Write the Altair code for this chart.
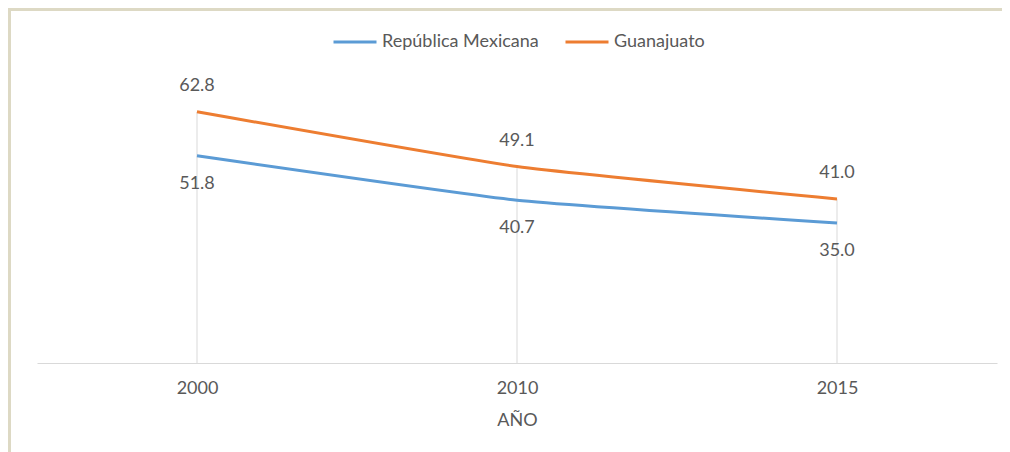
import altair as alt
import pandas as pd

years = ["2000", "2010", "2015"]
series_names = ["República Mexicana", "Guanajuato"]
mexico = [51.8, 40.7, 35.0]
guanajuato = [62.8, 49.1, 41.0]

rows = []
for i, y in enumerate(years):
    rows.append({"year": y, "serie": series_names[0], "valor": mexico[i]})
    rows.append({"year": y, "serie": series_names[1], "valor": guanajuato[i]})
df = pd.DataFrame(rows)
drop = pd.DataFrame({"year": years, "top": guanajuato})

FONT = "Lato"
GRAY = "#595959"

x = alt.X("year:O", scale=alt.Scale(type="point", padding=0.5),
          sort=years,
          axis=alt.Axis(title="AÑO", labelAngle=0, ticks=False, grid=False,
                        domainColor="#d9d9d9", domainWidth=1,
                        labelFontSize=18, labelColor=GRAY, labelFont=FONT,
                        labelPadding=16, titleFontSize=18, titleColor=GRAY,
                        titleFont=FONT, titleFontWeight="normal", titlePadding=14))
yscale = alt.Scale(domain=[0, 80])

color = alt.Color("serie:N",
                  scale=alt.Scale(domain=series_names, range=["#5B9BD5", "#ED7D31"]),
                  legend=alt.Legend(title=None, orient="none", legendX=295, legendY=-24,
                                    direction="horizontal", symbolType="stroke",
                                    symbolSize=1849, symbolStrokeWidth=3,
                                    labelFontSize=18, labelColor=GRAY, labelFont=FONT,
                                    labelOffset=4, columnPadding=20))

droplines = alt.Chart(drop).mark_rule(color="#d9d9d9", strokeWidth=1).encode(
    x=x, y=alt.Y("top:Q", scale=yscale, axis=None), y2=alt.datum(0))

lines = alt.Chart(df).mark_line(strokeWidth=3, interpolate="cardinal", tension=0.6).encode(
    x=x, y=alt.Y("valor:Q", scale=yscale, axis=None), color=color)

lab_mx = alt.Chart(df).transform_filter(alt.datum.serie == series_names[0]).mark_text(
    dy=28, fontSize=18, font=FONT, color=GRAY).encode(
    x=x, y=alt.Y("valor:Q", scale=yscale, axis=None), text=alt.Text("valor:Q", format=".1f"))

lab_gto = alt.Chart(df).transform_filter(alt.datum.serie == series_names[1]).mark_text(
    dy=-26, fontSize=18, font=FONT, color=GRAY).encode(
    x=x, y=alt.Y("valor:Q", scale=yscale, axis=None), text=alt.Text("valor:Q", format=".1f"))

frame_left = alt.Chart(drop).mark_rule(color="#ddd9c4", strokeWidth=3).encode(
    x=alt.value(-27.5), y=alt.value(-35), y2=alt.value(420))
frame_top = alt.Chart(drop).mark_rule(color="#ddd9c4", strokeWidth=3).encode(
    x=alt.value(-29), x2=alt.value(965), y=alt.value(-33.5))

chart = alt.layer(droplines, lines, lab_mx, lab_gto, frame_left, frame_top).properties(
    width=960, height=320,
    autosize=alt.AutoSizeParams(type="none"),
    padding={"left": 29, "top": 35, "right": 5, "bottom": 89},
).configure(background="white").configure_view(stroke=None)

chart.save("out.html", embed_options={"renderer": "svg", "actions": False})
